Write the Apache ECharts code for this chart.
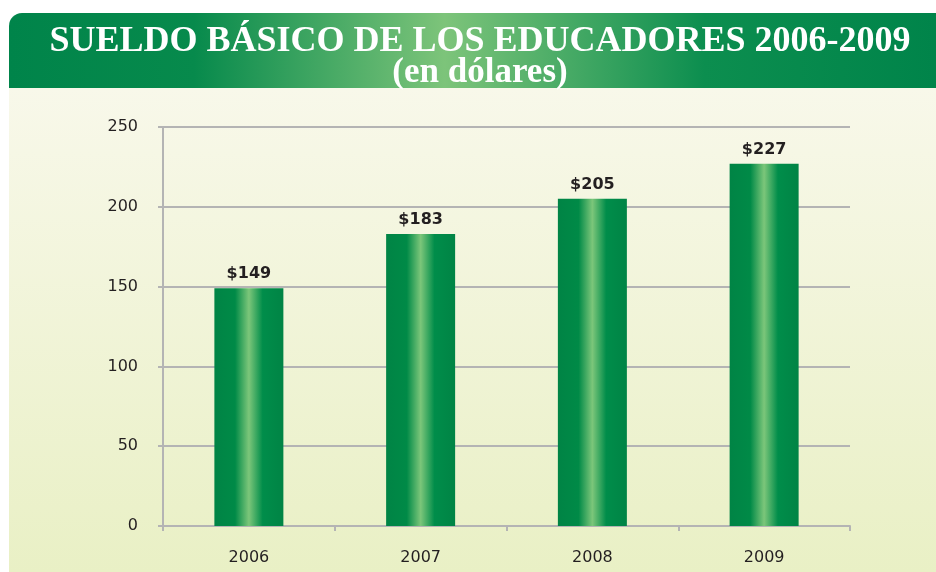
<!DOCTYPE html>
<html>
<head>
<meta charset="utf-8">
<script src="https://cdn.jsdelivr.net/npm/echarts@6/dist/echarts.min.js"></script>
<style>
  html, body { margin: 0; padding: 0; background: #fff; }
  #chart { width: 936px; height: 572px; }
</style>
</head>
<body>
<div id="chart"></div>
<script>
  var years = ['2006', '2007', '2008', '2009']
  var sueldo = [149, 183, 205, 227]
  var yTicks = [0, 50, 100, 150, 200, 250]

  var myChart = echarts.init(document.getElementById('chart'))

  var barGradient = new echarts.graphic.LinearGradient(0, 0, 1, 0, [
    { offset: 0, color: '#008445' },
    { offset: 0.3, color: '#008a47' },
    { offset: 0.5, color: '#7cc67a' },
    { offset: 0.7, color: '#008d4a' },
    { offset: 1, color: '#008445' }
  ])

  var option = {
    animation: false,
    backgroundColor: '#ffffff',
    graphic: [
      {
        type: 'rect',
        z: -10,
        shape: { x: 9, y: 87, width: 927, height: 485 },
        style: {
          fill: new echarts.graphic.LinearGradient(0, 0, 0, 1, [
            { offset: 0, color: '#f8f8ea' },
            { offset: 1, color: '#e9f0c5' }
          ])
        }
      },
      {
        type: 'rect',
        z: -10,
        shape: { x: 9, y: 13, width: 927, height: 75, r: [13, 0, 0, 0] },
        style: {
          fill: new echarts.graphic.LinearGradient(0, 0, 1, 0, [
            { offset: 0, color: '#00844a' },
            { offset: 0.2, color: '#078a4c' },
            { offset: 0.47, color: '#7dc47a' },
            { offset: 0.75, color: '#0c8e4f' },
            { offset: 1, color: '#00844a' }
          ])
        }
      }
    ],
    title: {
      text: 'SUELDO BÁSICO DE LOS EDUCADORES 2006-2009',
      subtext: '(en dólares)',
      left: 475,
      textAlign: 'center',
      top: 19,
      itemGap: 0,
      textStyle: {
        fontFamily: 'Liberation Serif',
        fontWeight: 'bold',
        fontSize: 36,
        color: '#ffffff',
        lineHeight: 36
      },
      subtextStyle: {
        fontFamily: 'Liberation Serif',
        fontWeight: 'bold',
        fontSize: 35,
        color: '#ffffff',
        lineHeight: 26
      }
    },
    grid: {
      left: 163,
      right: 86,
      top: 127,
      bottom: 46
    },
    xAxis: {
      type: 'category',
      data: years,
      axisLine: { lineStyle: { color: '#b4b4b4', width: 2 } },
      axisTick: { show: true, length: 5, lineStyle: { color: '#b4b4b4', width: 2 } },
      axisLabel: {
        margin: 24,
        fontFamily: 'DejaVu Sans',
        fontSize: 16,
        color: '#231f20'
      }
    },
    yAxis: {
      type: 'value',
      min: 0,
      max: 250,
      interval: 50,
      axisLine: { show: true, lineStyle: { color: '#b4b4b4', width: 2 } },
      axisTick: { show: true, length: 5, lineStyle: { color: '#b4b4b4', width: 2 } },
      splitLine: { lineStyle: { color: '#b4b4b4', width: 2 } },
      axisLabel: {
        margin: 25,
        fontFamily: 'DejaVu Sans',
        fontSize: 16,
        color: '#231f20',
        formatter: function (v) {
          return yTicks.indexOf(v) >= 0 ? String(v) : ''
        }
      }
    },
    series: [
      {
        type: 'bar',
        data: sueldo,
        barWidth: 69,
        itemStyle: { color: barGradient },
        label: {
          show: true,
          position: 'top',
          distance: 6,
          fontFamily: 'DejaVu Sans',
          fontWeight: 'bold',
          fontSize: 16,
          color: '#231f20',
          formatter: function (p) {
            return '$' + p.value
          }
        }
      }
    ]
  }
  myChart.setOption(option)
</script>
</body>
</html>
